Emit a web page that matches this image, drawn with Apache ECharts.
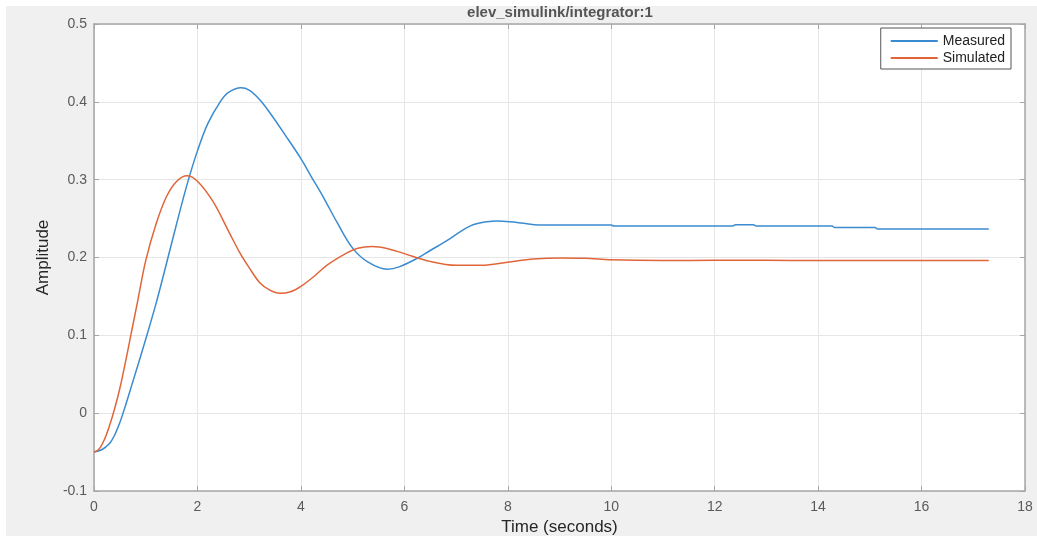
<!DOCTYPE html>
<html>
<head>
<meta charset="utf-8">
<script src="https://cdn.jsdelivr.net/npm/echarts@6/dist/echarts.min.js"></script>
<style>
  html, body { margin: 0; padding: 0; background: #fff; }
  #panel { position: absolute; left: 6px; top: 6px; width: 1031px; height: 530px; background: #f0f0f0; }
  #container { position: absolute; left: 0; top: 0; width: 1037px; height: 546px; }
</style>
</head>
<body>
<div id="panel"></div>
<div id="container"></div>
<script>
var measuredT = [0, 0.15, 0.3, 0.4, 0.5, 0.6, 0.73, 0.85, 1.0, 1.2, 1.4, 1.6, 1.8, 2.0, 2.2, 2.44, 2.6, 2.84, 3.0, 3.2, 3.4, 3.7, 4.0, 4.2, 4.43, 4.7, 5.0, 5.3, 5.67, 5.9, 6.25, 6.5, 6.83, 7.1, 7.33, 7.6, 7.8, 8.05, 8.3, 8.6, 10.0, 10.05, 12.35, 12.4, 12.75, 12.8, 14.27, 14.32, 15.1, 15.15, 17.3];
var measuredY = [-0.05, -0.047, -0.039, -0.028, -0.012, 0.008, 0.036, 0.062, 0.095, 0.141, 0.192, 0.244, 0.294, 0.337, 0.372, 0.400, 0.412, 0.418, 0.415, 0.403, 0.386, 0.357, 0.327, 0.304, 0.278, 0.245, 0.212, 0.194, 0.185, 0.188, 0.199, 0.209, 0.222, 0.234, 0.242, 0.246, 0.247, 0.246, 0.244, 0.2417, 0.2417, 0.2405, 0.2405, 0.242, 0.242, 0.2405, 0.2405, 0.2386, 0.2386, 0.2365, 0.2365];

// Simulated response
var simulatedT = [0, 0.1, 0.2, 0.3, 0.4, 0.5, 0.6, 0.7, 0.85, 1.0, 1.2, 1.4, 1.6, 1.8, 2.0, 2.3, 2.6, 2.82, 3.0, 3.2, 3.4, 3.6, 3.8, 4.0, 4.24, 4.5, 4.89, 5.1, 5.38, 5.7, 6.0, 6.5, 7.0, 7.5, 8.0, 8.5, 9.0, 9.5, 10, 11, 12, 13, 14, 15, 16, 17.3];
var simulatedY = [-0.05, -0.046, -0.034, -0.016, 0.006, 0.032, 0.063, 0.096, 0.146, 0.196, 0.243, 0.278, 0.298, 0.305, 0.298, 0.272, 0.234, 0.206, 0.187, 0.168, 0.158, 0.154, 0.156, 0.163, 0.175, 0.19, 0.206, 0.212, 0.214, 0.211, 0.205, 0.195, 0.19, 0.19, 0.194, 0.198, 0.1995, 0.199, 0.197, 0.196, 0.1965, 0.1965, 0.196, 0.196, 0.196, 0.196];

function pairs(ts, ys) {
    return ts.map(function (t, i) { return [t, ys[i]]; });
}

var dom = document.getElementById('container');
var myChart = echarts.init(dom, null, { renderer: 'canvas' });

var boxColor = '#a6a6a6';
var labelColor = '#5a5a5a';
var font = 'Liberation Sans, Arial';

var option = {
    animation: false,
    backgroundColor: 'transparent',
    title: {
        text: 'elev_simulink/integrator:1',
        left: 560,
        top: 5,
        padding: 0,
        textAlign: 'center',
        textStyle: { fontSize: 15, fontWeight: 'bold', color: '#555', fontFamily: font }
    },
    legend: {
        data: ['Measured', 'Simulated'],
        orient: 'vertical',
        right: 26,
        top: 28,
        padding: [6, 6, 4, 10],
        itemGap: 3,
        itemWidth: 47,
        itemHeight: 2,
        icon: 'rect',
        backgroundColor: '#fff',
        borderColor: '#555',
        borderWidth: 1,
        textStyle: { fontSize: 14, color: '#222', fontFamily: font }
    },
    grid: {
        left: 94, right: 12, top: 24, bottom: 55,
        show: true, backgroundColor: '#fff', borderWidth: 0
    },
    xAxis: [{
        type: 'value', min: 0, max: 18, interval: 2,
        name: 'Time (seconds)', nameLocation: 'middle', nameGap: 25,
        nameTextStyle: { fontSize: 17, color: '#262626', fontFamily: font },
        axisLine: { show: true, onZero: false, lineStyle: { color: boxColor, width: 1.5 } },
        axisTick: { show: true, inside: true, length: 5, lineStyle: { color: boxColor } },
        axisLabel: { margin: 9, fontSize: 14, color: labelColor, fontFamily: font },
        splitLine: { show: true, lineStyle: { color: '#e6e6e6', width: 1 } }
    }, {
        type: 'value', min: 0, max: 18, interval: 2, position: 'top',
        axisLine: { show: true, onZero: false, lineStyle: { color: boxColor, width: 1.5 } },
        axisTick: { show: true, inside: true, length: 5, lineStyle: { color: boxColor } },
        axisLabel: { show: false },
        splitLine: { show: false }
    }],
    yAxis: [{
        type: 'value', min: -0.1, max: 0.5, interval: 0.1,
        name: 'Amplitude', nameLocation: 'middle', nameGap: 35,
        nameTextStyle: { fontSize: 17, color: '#262626', fontFamily: font },
        axisLine: { show: true, onZero: false, lineStyle: { color: boxColor, width: 1.5 } },
        axisTick: { show: true, inside: true, length: 5, lineStyle: { color: boxColor } },
        axisLabel: { margin: 7, fontSize: 14, color: labelColor, fontFamily: font,
            formatter: function (v) { return String(Math.round(v * 10) / 10); } },
        splitLine: { show: true, lineStyle: { color: '#e6e6e6', width: 1 } }
    }, {
        type: 'value', min: -0.1, max: 0.5, interval: 0.1, position: 'right',
        axisLine: { show: true, onZero: false, lineStyle: { color: boxColor, width: 1.5 } },
        axisTick: { show: true, inside: true, length: 5, lineStyle: { color: boxColor } },
        axisLabel: { show: false },
        splitLine: { show: false }
    }],
    series: [
        {
            name: 'Measured', type: 'line', xAxisIndex: 0, yAxisIndex: 0,
            data: pairs(measuredT, measuredY),
            showSymbol: false, symbol: 'none',
            smooth: 0.35,
            itemStyle: { color: '#3a8bd0' },
            lineStyle: { color: '#3a8bd0', width: 1.5 }
        },
        {
            name: 'Simulated', type: 'line', xAxisIndex: 0, yAxisIndex: 0,
            data: pairs(simulatedT, simulatedY),
            showSymbol: false, symbol: 'none',
            smooth: 0.35,
            itemStyle: { color: '#e0663a' },
            lineStyle: { color: '#e0663a', width: 1.5 }
        }
    ]
};

myChart.setOption(option);
window.addEventListener('resize', myChart.resize);
</script>
</body>
</html>
